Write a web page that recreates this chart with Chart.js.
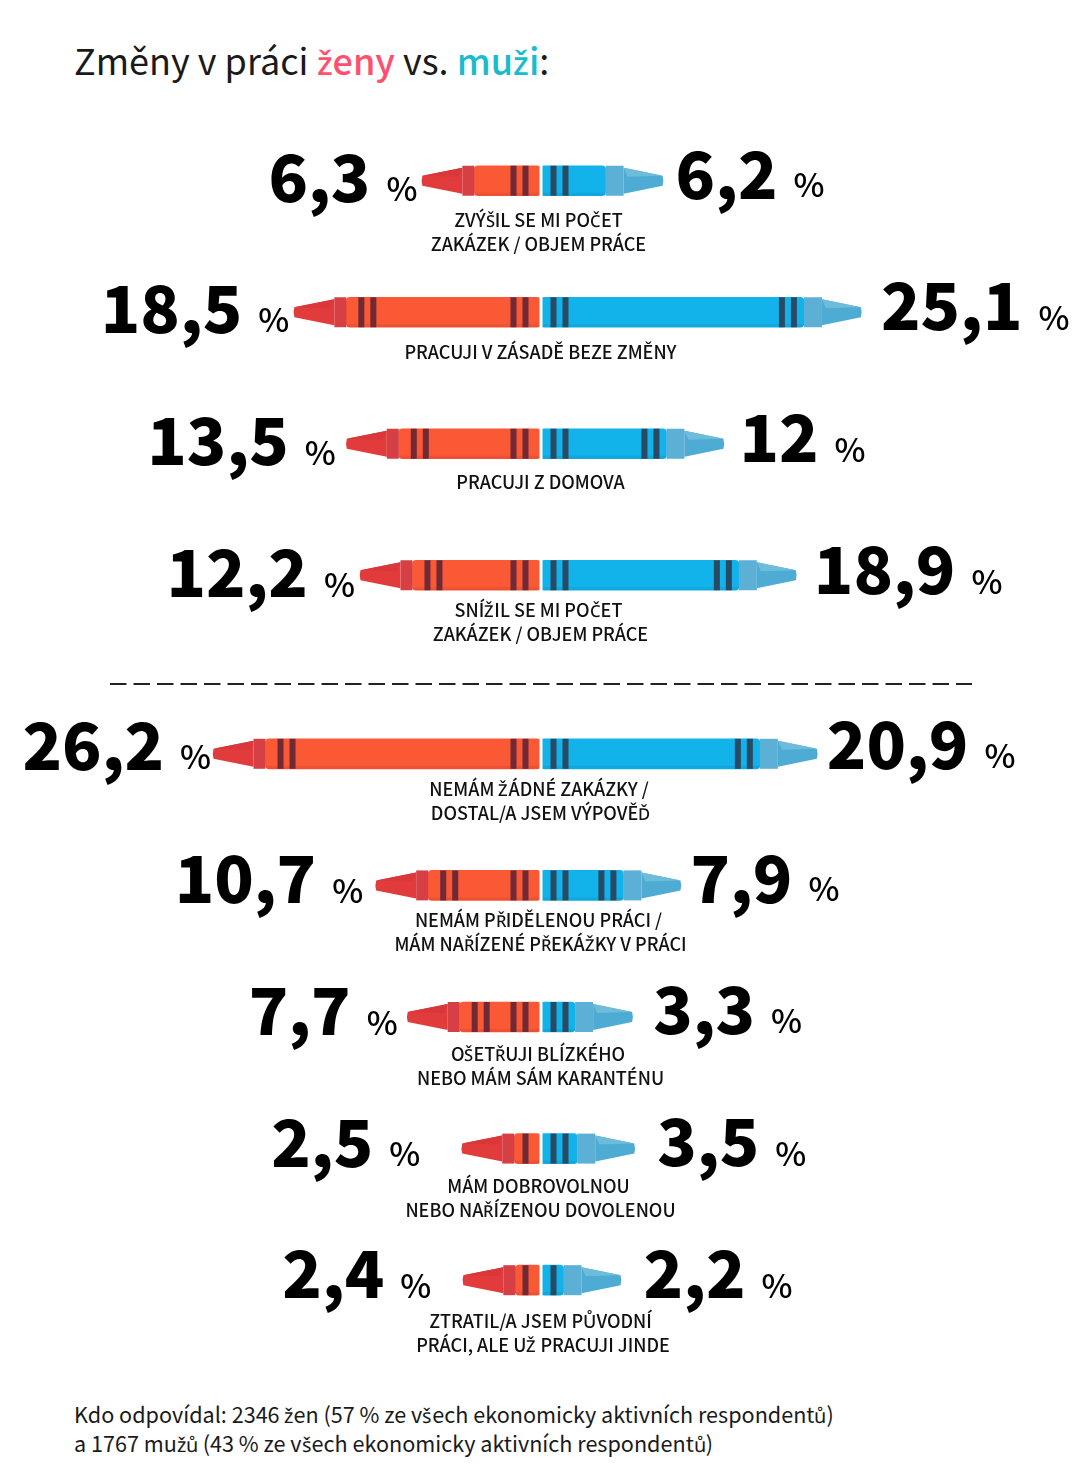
<!DOCTYPE html>
<html lang="cs">
<head>
<meta charset="utf-8">
<title>Změny v práci</title>
<script src="https://cdn.jsdelivr.net/npm/chart.js@4/dist/chart.umd.min.js"></script>
<style>
    /* Noto Sans CJK n'a pas bien ces lettres tchèques (š č ž ř ď ů) */
    @font-face { font-family: "Diacritiques"; font-weight: 400; src: local("Noto Sans"), local("NotoSans-Regular"); size-adjust: 92%;
        unicode-range: U+0160-0161, U+010C-010F, U+017D-017E, U+0158-0159, U+016F; }
    @font-face { font-family: "Diacritiques"; font-weight: 500; src: local("Noto Sans Medium"), local("NotoSans-Medium"), local("Noto Sans"); size-adjust: 92%;
        unicode-range: U+0160-0161, U+010C-010F, U+017D-017E, U+0158-0159, U+016F; }
    html, body { margin: 0; padding: 0; background: #fff; }
    body { position: relative; width: 1081px; height: 1483px; overflow: hidden; font-family: "Diacritiques", "Noto Sans CJK SC", "Noto Sans", sans-serif; color: #1a1a1a; }
    canvas { position: absolute; left: 0; }
    #titre { position: absolute; left: 74px; top: 33px; font-size: 36px; line-height: 52px; white-space: nowrap; }
    #titre b { font-weight: 500; }
    .zeny { color: #ff4f6e; }
    .muzi { color: #17bccd; }
    #pied { position: absolute; left: 74px; top: 1399px; font-size: 21.6px; line-height: 29px; white-space: nowrap; }
</style>
</head>
<body>
<div id="titre">Změny v práci <b class="zeny">ženy</b> vs. <b class="muzi">muži</b>:</div>
<canvas id="chartHaut" width="1081" height="606" style="top:115px"></canvas>
<canvas id="chartBas" width="1081" height="700" style="top:688px"></canvas>
<div id="pied">Kdo odpovídal: 2346 žen (57 % ze všech ekonomicky aktivních respondentů)<br>a 1767 mužů (43 % ze všech ekonomicky aktivních respondentů)</div>
<script>
const categories = [
    ["ZVÝŠIL SE MI POČET", "ZAKÁZEK / OBJEM PRÁCE"],
    ["PRACUJI V ZÁSADĚ BEZE ZMĚNY"],
    ["PRACUJI Z DOMOVA"],
    ["SNÍŽIL SE MI POČET", "ZAKÁZEK / OBJEM PRÁCE"],
    ["NEMÁM ŽÁDNÉ ZAKÁZKY /", "DOSTAL/A JSEM VÝPOVĚĎ"],
    ["NEMÁM PŘIDĚLENOU PRÁCI /", "MÁM NAŘÍZENÉ PŘEKÁŽKY V PRÁCI"],
    ["OŠETŘUJI BLÍZKÉHO", "NEBO MÁM SÁM KARANTÉNU"],
    ["MÁM DOBROVOLNOU", "NEBO NAŘÍZENOU DOVOLENOU"],
    ["ZTRATIL/A JSEM PŮVODNÍ", "PRÁCI, ALE UŽ PRACUJI JINDE"],
];
const zeny = [6.3, 18.5, 13.5, 12.2, 26.2, 10.7, 7.7, 2.5, 2.4];
const muzi = [6.2, 25.1, 12, 18.9, 20.9, 7.9, 3.3, 3.5, 2.2];

// reglages de mise en page, ligne par ligne
const ecartGauche = [5, 5, 11, 5.5, 2.5, 13, 10, 42, 32];
const ecartDroite = [14, 21, 17, 19, 11, 11, 22, 24, 24];
const decalageTexte = [39, 39.5, 38, 35, 35, 35, 37, 37, 41];
const nudgeChiffreG = [2, 2, 2, 3, -3, -1, -1, -1, -1];
const nudgeChiffreD = [3, 2, 3, 3, 0, 2, 1, 2, 2];
const nudgePctG = [0, 0, 1, 2, -5, -2, -2, -3, -2];
const nudgePctD = [-1, 1, 1, 2, -3, -1, -1, 0, 1];
const nudgeLigneX = [[-2, -2], [0], [0], [-2, 0], [-1.5, 0], [-2, 0], [-2.5, 0], [-2, 0], [0, 2.5]];

const ROUGE = { corps: "#fb5836", col: "#d63f44", mine: "#e23b3c", reflet: "#da373a", raie: "#6f2a36" };
const BLEU = { corps: "#12b2ea", col: "#5cafd5", mine: "#4eabd3", reflet: "#6dbcdc", raie: "#2a4a63" };
const FONT = '"Diacritiques", "Noto Sans CJK SC", "Noto Sans", sans-serif';

function formatValeur(v) {
    return String(v).replace(".", ",");
}

function dessinerRaie(ctx, x, y, h, couleur) {
    ctx.fillStyle = couleur;
    ctx.fillRect(x, y - h / 2, 6, h);
}

// Pastel : la barre est le corps, le plugin ajoute col, mine et raies
function dessinerPastel(ctx, bar, sens, c, valeur) {
    const h = 30;
    const y = bar.y;
    const fin = bar.x; // fin de la barre = debut du col
    const largeurCol = sens < 0 ? 12 : 18;
    const largeurMine = sens < 0 ? 40 : 39;

    // ombre en bas du corps
    ctx.fillStyle = "rgba(0,0,0,0.06)";
    ctx.fillRect(Math.min(fin, bar.base), y + h / 2 - 3, Math.abs(fin - bar.base), 3);

    // raies du centre
    [14, 26].forEach((d) => {
        const x = sens < 0 ? bar.base - d - 4 : bar.base + d - 4;
        const dedans = sens < 0 ? x >= fin + 3 : x + 6 <= fin - 3;
        if (dedans) dessinerRaie(ctx, x, y, h, c.raie);
    });
    // raies du bout
    if (valeur >= 7) {
        if (sens < 0) {
            [12, 24].forEach((d) => dessinerRaie(ctx, fin + d, y, h, c.raie));
        } else {
            [7, 19].forEach((d) => dessinerRaie(ctx, fin - d - 6, y, h, c.raie));
        }
    }
    // col
    ctx.fillStyle = c.col;
    const xCol = sens < 0 ? fin - largeurCol : fin;
    ctx.fillRect(xCol, y - h / 2, largeurCol, h);
    // mine
    const xCol2 = fin + sens * largeurCol;
    const pointe = xCol2 + sens * largeurMine;
    ctx.fillStyle = c.mine;
    ctx.beginPath();
    ctx.moveTo(xCol2, y - 13);
    ctx.lineTo(pointe, y - 5);
    ctx.quadraticCurveTo(pointe + sens * 1.5, y, pointe, y + 5);
    ctx.lineTo(xCol2, y + 13);
    ctx.closePath();
    ctx.fill();
    // facette claire de la mine
    ctx.fillStyle = c.reflet;
    ctx.beginPath();
    ctx.moveTo(xCol2, y - 13);
    ctx.lineTo(pointe, y - 5);
    ctx.lineTo(xCol2 + sens * 4, y - 4);
    ctx.closePath();
    ctx.fill();
    return pointe;
}

const pluginPastels = {
    id: "pastels",
    afterDatasetsDraw(chart, args, opts) {
        const ctx = chart.ctx;
        const barsF = chart.getDatasetMeta(0).data;
        const barsH = chart.getDatasetMeta(1).data;
        barsF.forEach((barF, i) => {
            const n = opts.debut + i;
            const barH = barsH[i];
            ctx.save();
            const tipG = dessinerPastel(ctx, barF, -1, ROUGE, zeny[n]);
            const tipD = dessinerPastel(ctx, barH, 1, BLEU, muzi[n]);
            // espace entre les deux pastels
            ctx.fillStyle = "#fff";
            ctx.fillRect(barF.base - 1, barF.y - 16, 3, 32);

            ctx.fillStyle = "#000";
            ctx.textBaseline = "alphabetic";
            // valeur femmes
            const xPctG = tipG - ecartGauche[n];
            ctx.textAlign = "right";
            ctx.font = "500 33px " + FONT;
            ctx.fillText("%", xPctG, barF.y + 20 + nudgePctG[n]);
            ctx.font = "900 65px " + FONT;
            ctx.fillText(formatValeur(zeny[n]), xPctG - 47, barF.y + 19 + nudgeChiffreG[n]);
            // valeur hommes
            const xD = tipD + ecartDroite[n];
            ctx.textAlign = "left";
            ctx.font = "900 65px " + FONT;
            const txt = formatValeur(muzi[n]);
            ctx.fillText(txt, xD - 1, barF.y + 15.5 + nudgeChiffreD[n]);
            const w = ctx.measureText(txt).width;
            ctx.font = "500 33px " + FONT;
            ctx.fillText("%", xD + w + 15, barF.y + 17 + nudgePctD[n]);

            // categorie
            ctx.textAlign = "center";
            ctx.font = "500 18px " + FONT;
            ctx.fillStyle = "#111";
            categories[n].forEach((ligne, k) => {
                ctx.fillText(ligne, barF.base + nudgeLigneX[n][k], barF.y + decalageTexte[n] + 7 + k * 24);
            });
            ctx.restore();
        });
        if (opts.separateur) {
            ctx.save();
            ctx.strokeStyle = "#222";
            ctx.lineWidth = 2;
            ctx.setLineDash([16.5, 7]);
            ctx.beginPath();
            ctx.moveTo(110, opts.separateur);
            ctx.lineTo(972, opts.separateur);
            ctx.stroke();
            ctx.restore();
        }
    },
};

function creerGraphique(idCanvas, debut, fin, basPadding, separateur) {
    return new Chart(document.getElementById(idCanvas), {
        type: "bar",
        plugins: [pluginPastels],
        data: {
            labels: categories.slice(debut, fin).map((c) => c.join(" ")),
            datasets: [
                {
                    label: "ženy",
                    data: zeny.slice(debut, fin).map((v) => -v),
                    backgroundColor: ROUGE.corps,
                    barThickness: 30,
                    borderRadius: 4,
                    borderSkipped: false,
                },
                {
                    label: "muži",
                    data: muzi.slice(debut, fin),
                    backgroundColor: BLEU.corps,
                    barThickness: 30,
                    borderRadius: 4,
                    borderSkipped: false,
                },
            ],
        },
        options: {
            indexAxis: "y",
            responsive: false,
            animation: false,
            layout: { padding: { bottom: basPadding } },
            scales: {
                x: { stacked: true, display: false, min: -51.5, max: 51.5 },
                y: { stacked: true, display: false },
            },
            plugins: {
                legend: { display: false },
                tooltip: { enabled: false },
                pastels: { debut: debut, separateur: separateur },
            },
        },
    });
}

// la police locale doit etre prete avant de dessiner sur le canvas
Promise.all([document.fonts.load('500 18px "Diacritiques"', "ŠŽČ"), document.fonts.load('400 18px "Diacritiques"', "š")])
    .catch(() => {})
    .then(() => {
        creerGraphique("chartHaut", 0, 4, 80, 569);
        creerGraphique("chartBas", 4, 9, 42, 0);
    });
</script>
</body>
</html>
